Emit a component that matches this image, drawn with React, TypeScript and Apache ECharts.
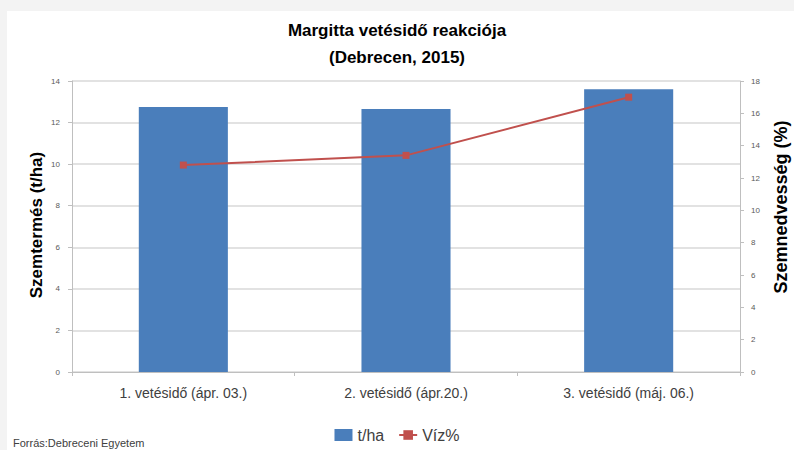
import React, { useEffect, useRef } from "react";
import * as echarts from "echarts";

const categories = ["1. vetésidő (ápr. 03.)", "2. vetésidő (ápr.20.)", "3. vetésidő (máj. 06.)"];
const yieldValues = [12.75, 12.65, 13.6];
const moistureValues = [12.8, 13.4, 17.0];
const titleLines = ["Margitta vetésidő reakciója", "(Debrecen, 2015)"];
const leftAxisName = "Szemtermés (t/ha)";
const rightAxisName = "Szemnedvesség (%)";
const seriesNames = ["t/ha", "Víz%"];
const sourceText = "Forrás:Debreceni Egyetem";

const FONT = "'Liberation Sans Narrow', 'Liberation Sans', Arial, sans-serif";

export default function App() {
  const ref = useRef<HTMLDivElement>(null);
  useEffect(() => {
    if (!ref.current) return;
    const chart = echarts.init(ref.current, null, { renderer: "svg" });
    chart.setOption({
      animation: false,
      backgroundColor: "#ffffff",
      graphic: [
        { type: "rect", shape: { x: 0, y: 0, width: 794, height: 11 }, style: { fill: "#f3f3f3" }, z: -10 },
        { type: "rect", shape: { x: 0, y: 11, width: 7, height: 439 }, style: { fill: "#f3f3f3" }, z: -10 },
        {
          type: "text",
          left: 13,
          top: 437,
          style: { text: sourceText, font: `11px ${FONT}`, fill: "#404040" },
        },
        {
          type: "text",
          x: 36,
          y: 225,
          rotation: Math.PI / 2,
          style: {
            text: leftAxisName,
            font: `bold 17px ${FONT}`,
            fill: "#000",
            textAlign: "center",
            textVerticalAlign: "middle",
          },
        },
        {
          type: "text",
          x: 781,
          y: 207,
          rotation: Math.PI / 2,
          style: {
            text: rightAxisName,
            font: `bold 18px ${FONT}`,
            fill: "#000",
            textAlign: "center",
            textVerticalAlign: "middle",
          },
        },
      ],
      title: {
        text: titleLines.join("\n"),
        left: "center",
        top: 12,
        textStyle: { fontFamily: FONT, fontSize: 17, fontWeight: "bold", color: "#000", lineHeight: 27 },
      },
      legend: {
        bottom: 2,
        left: "center",
        itemGap: 14,
        itemWidth: 18,
        itemHeight: 12,
        textStyle: { fontFamily: FONT, fontSize: 16, color: "#404040" },
        data: [
          { name: seriesNames[0], icon: "rect" },
          { name: seriesNames[1] },
        ],
      },
      grid: { left: 72, right: 54, top: 81, bottom: 78 },
      xAxis: {
        type: "category",
        data: categories,
        axisLine: { lineStyle: { color: "#bfbfbf", width: 1 } },
        axisTick: { show: true, alignWithLabel: false, length: 4, lineStyle: { color: "#bfbfbf" } },
        axisLabel: { fontFamily: FONT, fontSize: 14, color: "#404040", margin: 14 },
      },
      yAxis: [
        {
          type: "value",
          min: 0,
          max: 14,
          interval: 2,
          axisLine: { show: true, lineStyle: { color: "#bfbfbf" } },
          axisTick: { show: true, length: 4, lineStyle: { color: "#bfbfbf" } },
          axisLabel: { fontFamily: FONT, fontSize: 8, color: "#595959", margin: 12 },
          splitLine: { lineStyle: { color: "#d9d9d9", width: 1.5 } },
        },
        {
          type: "value",
          min: 0,
          max: 18,
          interval: 2,
          axisLine: { show: true, lineStyle: { color: "#bfbfbf" } },
          axisTick: { show: true, length: 4, lineStyle: { color: "#bfbfbf" } },
          axisLabel: { fontFamily: FONT, fontSize: 8, color: "#595959", margin: 11 },
          splitLine: { show: false },
        },
      ],
      series: [
        {
          name: seriesNames[0],
          type: "bar",
          data: yieldValues,
          barWidth: "40%",
          yAxisIndex: 0,
          itemStyle: { color: "#4a7ebb" },
        },
        {
          name: seriesNames[1],
          type: "line",
          data: moistureValues,
          yAxisIndex: 1,
          symbol: "rect",
          symbolSize: 7,
          lineStyle: { color: "#c0504d", width: 2 },
          itemStyle: { color: "#c0504d" },
        },
      ],
    });
    return () => chart.dispose();
  }, []);
  return (
    <div
      ref={ref}
      style={{ position: "absolute", left: 0, top: 0, width: 794, height: 450 }}
    />
  );
}
